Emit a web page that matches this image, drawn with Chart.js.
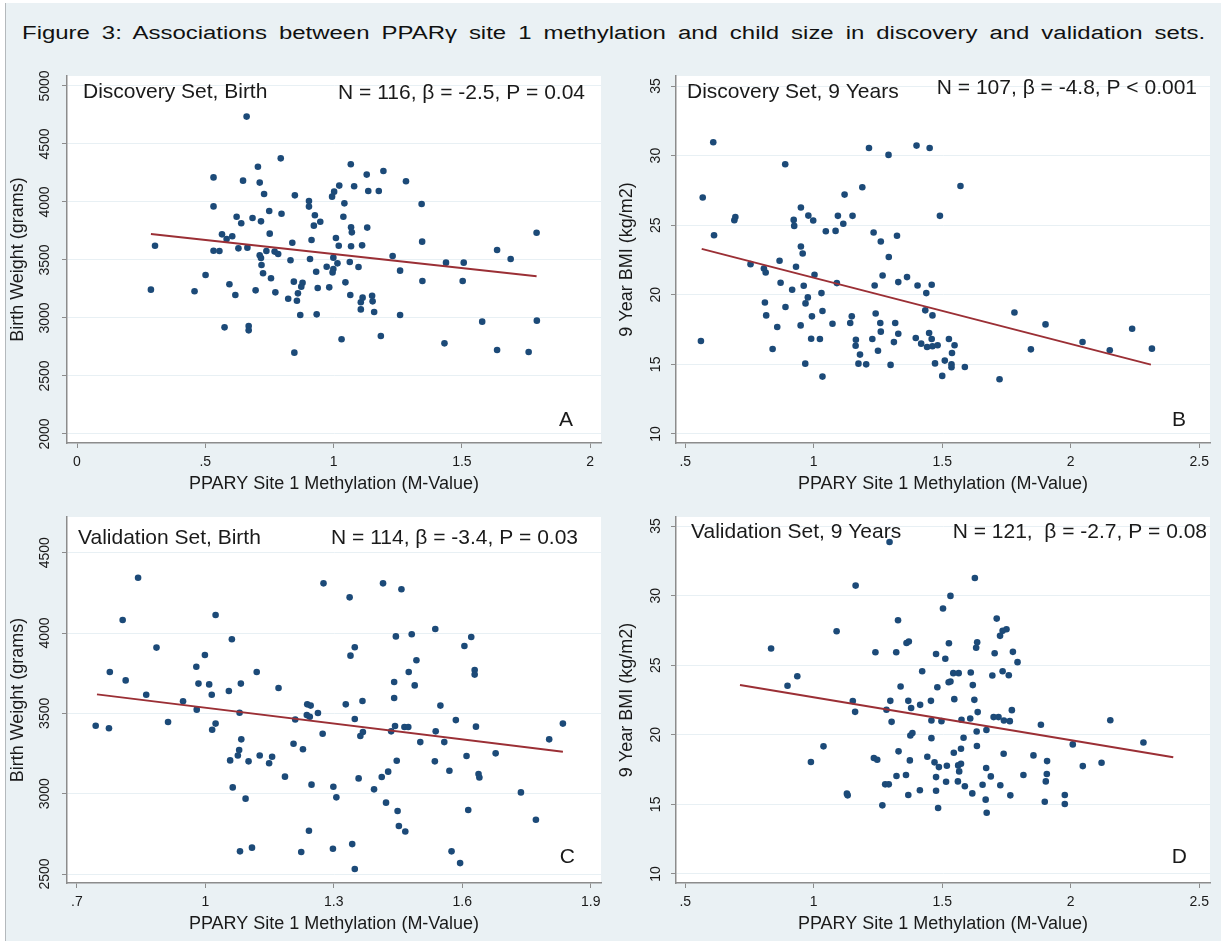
<!DOCTYPE html>
<html lang="en">
<head>
  <meta charset="UTF-8">
  <title>Figure 3</title>
  <script src="https://cdn.jsdelivr.net/npm/chart.js"></script>
  <style>
    body { margin: 0; background: #fff; font-family: 'Liberation Sans', Arial, sans-serif; }
    #frame { position: absolute; left: 5px; top: 3px; width: 1216px; height: 938px; background: #eaf1f4; border-left: 1px solid #b4b9bc; }
    #title { position: absolute; left: 22px; top: 22px; font-size: 18px; line-height: 22px; color: #111;
             white-space: nowrap; word-spacing: 4px; transform-origin: 0 0; }
    canvas { position: absolute; }
  </style>
</head>
<body>
  <div id="frame"></div>
  <div id="title">Figure 3: Associations between PPARγ site 1 methylation and child size in discovery and validation sets.</div>
  <canvas id="panelA" width="603" height="439" style="left:6px; top:56px;"></canvas>
  <canvas id="panelB" width="603" height="439" style="left:615px; top:56px;"></canvas>
  <canvas id="panelC" width="603" height="438" style="left:6px; top:497px;"></canvas>
  <canvas id="panelD" width="603" height="438" style="left:615px; top:497px;"></canvas>
  <script>
    // Panel A: discovery set, birth weight
    const methA = [0.661,0.794,0.705,0.532,0.647,0.712,0.729,0.849,0.904,0.904,0.532,0.749,0.797,0.622,0.684,0.927,0.640,0.717,0.948,0.923,
      0.565,0.751,0.605,0.583,0.839,0.914,0.304,0.532,0.555,0.629,0.664,0.738,0.770,0.784,0.712,0.717,0.832,0.908,0.719,0.725,
      0.501,0.756,0.932,0.594,0.845,0.879,0.874,0.938,0.288,0.458,0.696,0.773,0.617,0.861,0.823,0.857,0.870,0.934,0.575,0.669,
      0.669,0.847,1.067,1.022,1.080,1.129,1.194,1.135,1.176,1.282,1.002,0.994,1.042,1.343,1.038,1.068,1.071,1.131,1.009,1.020,
      1.068,1.111,1.345,1.791,0.999,1.230,1.637,1.690,1.015,1.063,1.097,0.973,0.999,0.996,1.259,1.438,1.507,1.046,1.346,1.503,
      0.983,1.065,1.113,1.150,1.152,1.106,1.106,1.158,1.259,1.579,1.792,1.031,1.184,1.432,1.637,1.760];
    const bwA = [4736,4376,4304,4212,4184,4167,4069,4057,4008,3960,3962,3922,3899,3873,3862,3885,3816,3833,3830,3796,
      3721,3727,3704,3681,3649,3672,3623,3580,3577,3600,3606,3577,3572,3552,3540,3517,3497,3508,3457,3385,
      3370,3342,3399,3290,3313,3304,3270,3258,3244,3230,3238,3221,3198,3212,3166,3149,3026,3031,2919,2931,
      2893,2701,4325,4141,4135,4236,4267,4095,4095,4178,4089,4046,3988,3983,3873,3781,3738,3779,3689,3623,
      3618,3626,3658,3735,3520,3534,3586,3508,3471,3483,3439,3442,3422,3393,3408,3477,3477,3307,3319,3319,
      3264,3198,3175,3192,3143,3135,3074,3051,3026,2968,2977,2816,2844,2781,2724,2707];
    const fitXA = [0.288, 1.791];
    const fitYA = [3724, 3359];
    const xTicksA = [0, 0.5, 1, 1.5, 2];
    const xLabelsA = ['0', '.5', '1', '1.5', '2'];
    const yTicksA = [2000, 2500, 3000, 3500, 4000, 4500, 5000];
    const yLabelsA = ['2000', '2500', '3000', '3500', '4000', '4500', '5000'];

    // Panel B: discovery set, 9 year BMI
    const methB = [0.609,0.568,0.612,0.561,0.691,0.695,0.754,0.806,0.813,0.867,0.889,0.931,0.871,0.810,0.815,0.890,0.858,0.840,0.950,0.922,
      0.924,0.950,0.957,0.979,0.998,1.003,0.961,0.916,0.977,0.968,0.993,0.949,0.990,0.967,1.024,1.030,1.034,1.034,1.047,1.085,
      1.094,1.115,1.120,1.090,1.073,1.142,1.148,1.151,1.189,1.164,1.163,1.180,1.174,1.215,1.233,1.261,1.292,1.268,1.237,1.241,
      1.259,1.261,1.228,1.250,1.204,1.291,1.299,1.324,1.329,1.317,1.329,1.312,1.363,1.400,1.451,1.404,1.438,1.434,1.397,1.418,
      1.441,1.449,1.459,1.571,1.491,1.462,1.459,1.462,1.482,1.526,1.548,1.538,1.472,1.510,1.536,1.536,1.588,1.500,1.723,1.781,
      1.902,1.845,2.046,2.152,2.239,2.316];
    const bmiB = [30.96,26.99,24.28,16.68,25.36,25.58,22.20,21.89,21.60,22.44,29.38,22.01,20.86,19.45,18.52,19.12,17.68,16.10,26.27,25.38,
      24.95,23.47,22.97,25.69,25.34,21.44,20.65,20.36,19.81,19.38,18.45,17.80,16.84,15.05,16.82,20.12,18.83,14.12,24.57,24.59,
      25.67,25.10,27.20,20.84,17.92,17.97,18.45,25.67,27.73,16.77,16.34,15.70,15.05,30.55,24.48,23.83,22.71,21.39,20.67,18.66,
      17.97,17.35,16.82,15.98,15.00,30.05,14.96,24.24,20.91,17.97,17.20,16.60,21.27,30.72,30.55,20.67,20.12,18.88,16.89,16.49,
      16.25,17.25,20.72,27.82,25.67,18.52,16.82,16.30,16.37,16.82,16.37,15.82,15.07,15.27,15.00,14.79,14.81,14.17,13.93,18.73,
      17.87,16.08,16.61,16.01,17.56,16.13];
    const fitXB = [0.564, 2.312];
    const fitYB = [23.30, 14.98];
    const xTicksB = [0.5, 1, 1.5, 2, 2.5];
    const xLabelsB = ['.5', '1', '1.5', '2', '2.5'];
    const yTicksB = [10, 15, 20, 25, 30, 35];
    const yLabelsB = ['10', '15', '20', '25', '30', '35'];

    // Panel C: validation set, birth weight
    const methC = [0.843,0.807,1.024,1.062,0.886,0.999,0.979,0.777,1.120,0.814,0.984,1.009,1.083,1.171,0.862,1.015,1.055,0.948,0.980,1.080,
      1.238,1.246,1.237,1.244,1.263,1.210,0.744,0.775,0.913,1.024,1.016,1.084,1.206,1.228,1.079,1.076,1.058,1.101,1.127,1.156,
      1.149,1.186,1.248,1.064,1.094,1.242,1.081,1.109,1.224,1.276,1.415,1.458,1.337,1.445,1.482,1.537,1.621,1.605,1.349,1.339,
      1.493,1.475,1.629,1.629,1.441,1.489,1.441,1.328,1.367,1.549,1.349,1.585,1.835,1.274,1.443,1.465,1.474,1.434,1.538,1.632,
      1.368,1.362,1.502,1.558,1.803,1.447,1.536,1.610,1.678,1.427,1.412,1.570,1.638,1.640,1.358,1.299,1.306,1.394,1.422,1.449,
      1.737,1.614,1.452,1.467,1.772,1.298,1.343,1.349,1.575,1.595];
    const bwC = [4344,4081,4112,3961,3909,3863,3790,3757,3757,3705,3685,3680,3685,3658,3616,3616,3639,3575,3523,3504,
      3556,3548,3489,3479,3502,3462,3423,3407,3446,3436,3398,3338,3311,3276,3272,3238,3207,3201,3238,3230,
      3189,3106,3056,3039,2969,2769,2641,2664,2637,4309,4309,4272,4222,3979,3992,4025,3975,3919,3911,3859,
      3830,3757,3770,3741,3695,3674,3595,3556,3577,3548,3465,3458,3436,3373,3421,3415,3415,3388,3388,3417,
      3384,3359,3321,3321,3338,3205,3201,3234,3251,3137,3104,3143,3122,3101,3095,3043,2977,3027,2944,2892,
      3008,2898,2799,2765,2838,2657,2686,2531,2641,2568];
    const fitXC = [0.747, 1.835];
    const fitYC = [3618, 3261];
    const xTicksC = [0.7, 1, 1.3, 1.6, 1.9];
    const xLabelsC = ['.7', '1', '1.3', '1.6', '1.9'];
    const yTicksC = [2500, 3000, 3500, 4000, 4500];
    const yLabelsC = ['2500', '3000', '3500', '4000', '4500'];

    // Panel D: validation set, 9 year BMI
    const methD = [1.295,1.163,1.328,1.089,0.834,1.361,1.370,1.240,1.321,1.422,0.936,0.898,1.338,1.152,1.298,1.368,1.414,1.379,1.161,1.283,
      1.303,1.384,1.376,1.038,0.989,1.234,1.247,1.330,1.374,1.442,1.322,1.359,1.278,1.292,1.129,1.132,1.368,1.413,1.267,
      1.627,1.532,1.503,1.712,1.750,1.735,1.725,1.526,1.636,1.632,1.476,1.512,1.704,1.775,1.793,1.543,1.564,1.611,1.735,1.759,
      1.695,1.532,1.525,1.619,1.481,1.547,1.625,1.456,1.638,1.771,1.700,1.719,1.740,1.763,1.575,1.609,1.497,1.458,1.884,2.154,
      1.634,1.672,1.458,1.583,1.635,1.573,1.545,2.008,2.283,1.739,1.855,1.908,1.470,1.487,1.518,1.562,1.573,1.566,1.671,1.816,
      1.907,1.903,2.047,2.120,1.476,1.515,1.561,1.588,1.657,1.689,1.726,1.476,1.617,1.669,1.765,1.899,1.977,1.977,1.484,1.673];
    const bmiD = [33.85,30.72,28.23,27.44,26.20,26.60,26.70,25.93,25.93,24.57,24.21,23.52,23.47,22.42,22.44,22.44,22.15,21.92,21.65,21.80,
      20.93,20.12,19.95,19.17,18.04,18.33,18.21,18.81,18.16,18.42,17.04,17.11,16.44,16.44,15.77,15.65,15.67,16.01,14.93,
      31.27,29.98,29.07,28.35,27.58,27.47,27.11,26.58,26.65,26.25,25.81,25.46,25.86,25.96,25.22,24.43,24.43,24.48,24.57,24.28,
      24.26,23.83,23.78,23.57,23.42,22.56,22.51,22.44,21.63,21.77,21.27,21.27,21.03,20.98,21.08,21.17,20.98,21.03,20.72,21.05,
      20.24,20.34,19.76,19.79,19.19,19.00,18.71,19.31,19.45,18.64,18.52,18.11,18.02,17.68,17.78,17.80,17.92,17.37,17.61,17.11,
      17.18,16.65,17.75,17.99,16.96,16.63,16.65,16.30,16.41,17.01,16.37,15.98,15.79,15.34,15.65,15.19,15.67,15.03,14.74,14.40];
    const fitXD = [0.713, 2.399];
    const fitYD = [23.57, 18.38];
    const xTicksD = [0.5, 1, 1.5, 2, 2.5];
    const xLabelsD = ['.5', '1', '1.5', '2', '2.5'];
    const yTicksD = [10, 15, 20, 25, 30, 35];
    const yLabelsD = ['10', '15', '20', '25', '30', '35'];

    const BLUE = '#1c4a78';
    const RED = '#9b2f35';
    const AXIS = '#8c8c8c';
    const GRID = '#e8f0f4';
    const TEXT = '#1a1a1a';
    const FONT = "'Liberation Sans', Arial, sans-serif";
    const X_TITLE = 'PPARY Site 1 Methylation (M-Value)';

    Chart.defaults.font.family = FONT;

    // stretch the figure title across the top, like the original slide
    const title = document.getElementById('title');
    title.style.transform = 'scaleX(' + (1183 / title.offsetWidth) + ')';

    function makePanel(id, p) {
      const points = p.xs.map((x, i) => ({ x: x, y: p.ys[i] }));
      const fit = p.fitX.map((x, i) => ({ x: x, y: p.fitY[i] }));

      const panelPlugin = {
        id: 'panel' + id,
        beforeDraw(chart) {
          const a = chart.chartArea;
          chart.ctx.save();
          chart.ctx.fillStyle = '#fff';
          chart.ctx.fillRect(a.left, a.top, a.right - a.left, a.bottom - a.top);
          chart.ctx.restore();
        },
        afterDraw(chart) {
          const a = chart.chartArea;
          const ctx = chart.ctx;
          const t = p.text;
          ctx.save();
          ctx.fillStyle = TEXT;
          ctx.font = '21px ' + FONT;
          ctx.textBaseline = 'alphabetic';
          ctx.textAlign = 'left';
          ctx.fillText(t.label, a.left + t.labelDx, a.top + t.labelDy);
          ctx.textAlign = 'right';
          ctx.fillText(t.stats, a.right - t.statsDx, a.top + t.statsDy);
          ctx.fillText(t.letter, a.right - t.letterDx, a.bottom - t.letterDy);
          ctx.restore();
        }
      };

      return new Chart(document.getElementById(id), {
        type: 'scatter',
        data: {
          datasets: [
            { type: 'line', data: fit, borderColor: RED, borderWidth: 2, pointRadius: 0, fill: false },
            { data: points, backgroundColor: BLUE, borderWidth: 0, pointRadius: 3.3 }
          ]
        },
        options: {
          responsive: false,
          animation: false,
          events: [],
          layout: { padding: { top: 20, right: 8, left: 0, bottom: 0 } },
          plugins: { legend: { display: false }, tooltip: { enabled: false } },
          scales: {
            x: {
              type: 'linear',
              min: p.xMin,
              max: p.xMax,
              afterBuildTicks: s => { s.ticks = p.xTicks.map(v => ({ value: v })); },
              afterFit: s => { s.height = 52; },
              ticks: { autoSkip: false, maxRotation: 0, padding: 6, color: TEXT, font: { size: 14 },
                       callback: (v, i) => p.xLabels[i] },
              grid: { drawOnChartArea: false, tickLength: 5, tickColor: AXIS },
              border: { color: AXIS, width: 1.5 },
              title: { display: true, text: X_TITLE, color: TEXT, font: { size: 18 }, padding: 0 }
            },
            y: {
              type: 'linear',
              min: p.yMin,
              max: p.yMax,
              afterBuildTicks: s => { s.ticks = p.yTicks.map(v => ({ value: v })); },
              afterFit: s => { s.width = 61; },
              ticks: { autoSkip: false, minRotation: 90, maxRotation: 90, crossAlign: 'center', padding: p.yPad,
                       color: TEXT, font: { size: 14 }, callback: (v, i) => p.yLabels[i] },
              grid: { color: GRID, tickLength: 5, tickColor: AXIS },
              border: { color: AXIS, width: 1.5 },
              title: { display: true, text: p.yTitle, color: TEXT, font: { size: 18 }, padding: { top: 1, bottom: 0 } }
            }
          }
        },
        plugins: [panelPlugin]
      });
    }

    makePanel('panelA', {
      xs: methA, ys: bwA, fitX: fitXA, fitY: fitYA,
      xTicks: xTicksA, xLabels: xLabelsA, yTicks: yTicksA, yLabels: yLabelsA,
      xMin: -0.039, xMax: 2.042, yMin: 1922, yMax: 5086, yPad: 1,
      yTitle: 'Birth Weight (grams)',
      text: { label: 'Discovery Set, Birth', labelDx: 16, labelDy: 22,
              stats: 'N = 116, β = -2.5, P = 0.04', statsDx: 16, statsDy: 23,
              letter: 'A', letterDx: 28, letterDy: 17 }
    });

    makePanel('panelB', {
      xs: methB, ys: bmiB, fitX: fitXB, fitY: fitYB,
      xTicks: xTicksB, xLabels: xLabelsB, yTicks: yTicksB, yLabels: yLabelsB,
      xMin: 0.464, xMax: 2.542, yMin: 9.35, yMax: 35.72, yPad: 7,
      yTitle: '9 Year BMI (kg/m2)',
      text: { label: 'Discovery Set, 9 Years', labelDx: 11, labelDy: 22,
              stats: 'N = 107, β = -4.8, P < 0.001', statsDx: 13, statsDy: 18,
              letter: 'B', letterDx: 24, letterDy: 17 }
    });

    makePanel('panelC', {
      xs: methC, ys: bwC, fitX: fitXC, fitY: fitYC,
      xTicks: xTicksC, xLabels: xLabelsC, yTicks: yTicksC, yLabels: yLabelsC,
      xMin: 0.677, xMax: 1.924, yMin: 2444, yMax: 4722, yPad: 1,
      yTitle: 'Birth Weight (grams)',
      text: { label: 'Validation Set, Birth', labelDx: 11, labelDy: 27,
              stats: 'N = 114, β = -3.4, P = 0.03', statsDx: 23, statsDy: 27,
              letter: 'C', letterDx: 26, letterDy: 20 }
    });

    makePanel('panelD', {
      xs: methD, ys: bmiD, fitX: fitXD, fitY: fitYD,
      xTicks: xTicksD, xLabels: xLabelsD, yTicks: yTicksD, yLabels: yLabelsD,
      xMin: 0.464, xMax: 2.542, yMin: 9.35, yMax: 35.65, yPad: 7,
      yTitle: '9 Year BMI (kg/m2)',
      text: { label: 'Validation Set, 9 Years', labelDx: 15, labelDy: 21,
              stats: 'N = 121,  β = -2.7, P = 0.08', statsDx: 3, statsDy: 21,
              letter: 'D', letterDx: 23, letterDy: 20 }
    });
  </script>
</body>
</html>
